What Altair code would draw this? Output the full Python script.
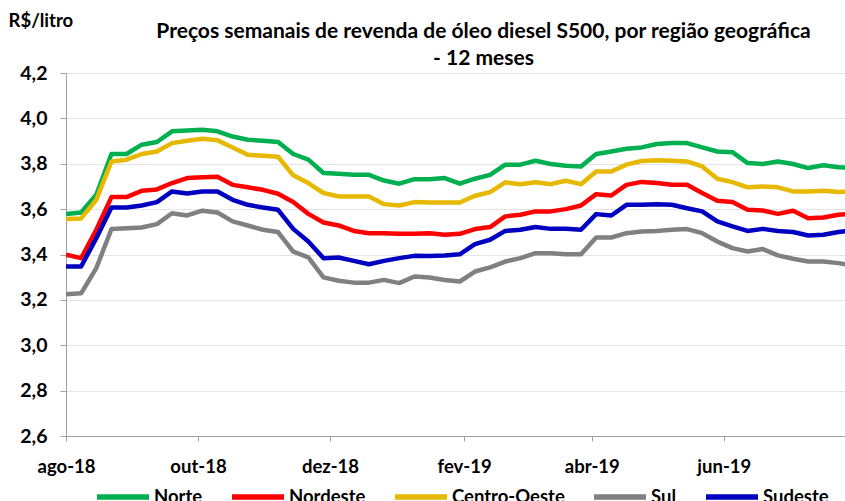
import altair as alt
import pandas as pd

# Weekly survey dates (12 months)
weeks = pd.date_range("2018-08-05", periods=53, freq="7D")

regions = ["Norte", "Nordeste", "Centro-Oeste", "Sul", "Sudeste"]
colors = ["#00B050", "#FF0000", "#E6B800", "#808080", "#0000C0"]

norte = [3.578, 3.585, 3.663, 3.843, 3.843, 3.884, 3.896, 3.943, 3.947, 3.950,
         3.943, 3.920, 3.906, 3.901, 3.896, 3.843, 3.818, 3.759, 3.756, 3.751,
         3.751, 3.726, 3.712, 3.732, 3.732, 3.737, 3.712, 3.734, 3.751, 3.796,
         3.796, 3.813, 3.799, 3.791, 3.788, 3.843, 3.854, 3.866, 3.872, 3.887,
         3.891, 3.891, 3.872, 3.854, 3.851, 3.803, 3.799, 3.810, 3.799, 3.781,
         3.793, 3.785, 3.781]
nordeste = [3.399, 3.384, 3.509, 3.653, 3.653, 3.681, 3.687, 3.715, 3.737, 3.740,
            3.743, 3.707, 3.696, 3.685, 3.668, 3.631, 3.579, 3.541, 3.528, 3.504,
            3.494, 3.494, 3.491, 3.491, 3.494, 3.487, 3.491, 3.512, 3.521, 3.568,
            3.575, 3.590, 3.590, 3.600, 3.616, 3.666, 3.660, 3.707, 3.720, 3.715,
            3.707, 3.707, 3.671, 3.637, 3.631, 3.597, 3.594, 3.579, 3.593, 3.560,
            3.563, 3.575, 3.581]
centro_oeste = [3.557, 3.559, 3.641, 3.810, 3.818, 3.843, 3.854, 3.891, 3.901, 3.910,
                3.904, 3.872, 3.840, 3.835, 3.831, 3.749, 3.715, 3.671, 3.656, 3.656,
                3.656, 3.622, 3.616, 3.631, 3.629, 3.629, 3.629, 3.659, 3.675, 3.718,
                3.710, 3.718, 3.710, 3.725, 3.710, 3.766, 3.766, 3.796, 3.812, 3.815,
                3.813, 3.810, 3.788, 3.734, 3.719, 3.696, 3.700, 3.696, 3.678, 3.678,
                3.681, 3.675, 3.678]
sul = [3.225, 3.229, 3.340, 3.512, 3.516, 3.519, 3.534, 3.582, 3.572, 3.593,
       3.585, 3.546, 3.528, 3.509, 3.499, 3.413, 3.387, 3.299, 3.284, 3.276,
       3.276, 3.288, 3.274, 3.303, 3.299, 3.288, 3.281, 3.325, 3.343, 3.369,
       3.384, 3.406, 3.406, 3.401, 3.401, 3.475, 3.475, 3.494, 3.501, 3.504,
       3.509, 3.512, 3.494, 3.457, 3.428, 3.413, 3.424, 3.396, 3.381, 3.369,
       3.369, 3.362, 3.351]
sudeste = [3.347, 3.347, 3.472, 3.607, 3.607, 3.616, 3.631, 3.678, 3.669, 3.678,
           3.678, 3.641, 3.619, 3.607, 3.597, 3.513, 3.457, 3.384, 3.387, 3.372,
           3.357, 3.372, 3.384, 3.394, 3.393, 3.396, 3.401, 3.446, 3.465, 3.504,
           3.509, 3.521, 3.513, 3.513, 3.509, 3.578, 3.572, 3.619, 3.619, 3.622,
           3.619, 3.604, 3.590, 3.546, 3.524, 3.504, 3.513, 3.504, 3.499, 3.484,
           3.487, 3.499, 3.507]

y_ticks = [2.6, 2.8, 3.0, 3.2, 3.4, 3.6, 3.8, 4.0, 4.2]
x_tick_dates = ["2018-08-05", "2018-10-05", "2018-12-05", "2019-02-05",
                "2019-04-05", "2019-06-05"]
x_domain = ["2018-08-05", "2019-07-31"]
month_abbr = ["jan", "fev", "mar", "abr", "mai", "jun",
              "jul", "ago", "set", "out", "nov", "dez"]
title_lines = ["Preços semanais de revenda de óleo diesel S500, por região geográfica",
               "- 12 meses"]


def ms(d):
    return int(pd.Timestamp(d).timestamp() * 1000)


series = [norte, nordeste, centro_oeste, sul, sudeste]
rows = []
for name, vals in zip(regions, series):
    for d, v in zip(weeks, vals):
        rows.append({"t": ms(d), "regiao": name, "preco": v})
df = pd.DataFrame(rows)

FONT = "Lato"
FS = 18.5
month_js = "[" + ",".join("'%s'" % m for m in month_abbr) + "]"

chart = alt.Chart(df).mark_line(strokeWidth=4.5, clip=True, strokeJoin="round").encode(
    x=alt.X(
        "t:T",
        scale=alt.Scale(type="utc", domain=[ms(d) for d in x_domain]),
        axis=alt.Axis(
            values=[ms(d) for d in x_tick_dates],
            labelExpr=month_js + "[utcmonth(datum.value)] + '-' + utcFormat(datum.value, '%y')",
            title=None, grid=False, tickSize=5, labelPadding=16,
            domainColor="#A0A0A0", tickColor="#A0A0A0",
            labelFont=FONT, labelFontSize=FS, labelFontWeight="bold", labelColor="black",
            labelAlign="center",
        ),
    ),
    y=alt.Y(
        "preco:Q",
        scale=alt.Scale(domain=[2.6, 4.2], nice=False, zero=False),
        axis=alt.Axis(
            values=y_ticks,
            labelExpr="replace(format(datum.value, '.1f'), '.', ',')",
            title="R$/litro", titleAngle=0, titleX=-58, titleY=-47,
            titleAlign="left", titleBaseline="alphabetic",
            titleFont=FONT, titleFontSize=FS, titleFontWeight="bold", titleColor="black",
            grid=True, gridColor="#E4E4E4", gridWidth=1.2,
            tickSize=6, labelPadding=13,
            domainColor="#A0A0A0", tickColor="#A0A0A0",
            labelFont=FONT, labelFontSize=19.5, labelFontWeight="bold", labelColor="black",
        ),
    ),
    color=alt.Color(
        "regiao:N",
        sort=regions,
        scale=alt.Scale(domain=regions, range=colors),
        legend=alt.Legend(
            orient="none", legendX=28, legendY=395, direction="horizontal",
            title=None, symbolType="stroke", symbolSize=2704, symbolStrokeWidth=5.5,
            labelFont=FONT, labelFontSize=FS, labelFontWeight="bold", labelColor="black",
            labelOffset=2, columnPadding=18, labelLimit=0,
        ),
    ),
).properties(
    width=779,
    height=363,
    title=alt.Title(
        text=title_lines, font=FONT, fontSize=21, fontWeight="bold", color="black",
        anchor="middle", dx=28, dy=63, offset=5, lineHeight=27,
    ),
    padding={"left": 66, "top": 73, "right": 0, "bottom": 65},
    autosize="none",
).configure_view(stroke=None)

chart.save("out.html", embed_options={"renderer": "svg", "actions": False})
